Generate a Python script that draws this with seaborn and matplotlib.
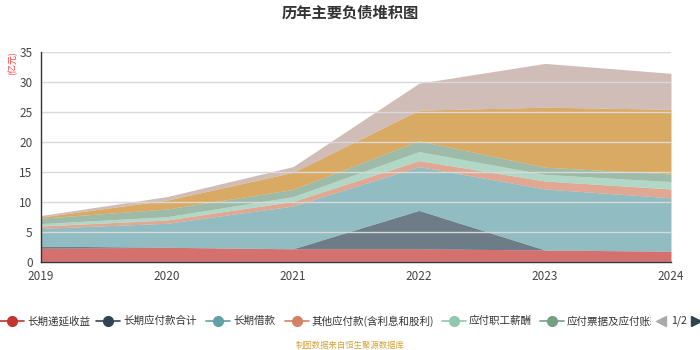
import matplotlib
matplotlib.use("Agg")
import matplotlib.pyplot as plt
from matplotlib.lines import Line2D
from matplotlib.transforms import Bbox, TransformedBbox
import numpy as np
import seaborn as sns

years = [2019, 2020, 2021, 2022, 2023, 2024]
series_names = ["长期递延收益", "长期应付款合计", "长期借款", "其他应付款(含利息和股利)",
                "应付职工薪酬", "应付票据及应付账款", "短期借款", "其他负债"]
deferred_income = [2.3, 2.45, 2.2, 2.2, 2.0, 1.8]
lt_payables = [0.35, 0.0, 0.0, 6.4, 0.0, 0.0]
lt_loans = [2.95, 4.0, 7.13, 7.3, 10.17, 8.9]
other_payables = [0.4, 0.55, 0.77, 1.0, 1.33, 1.47]
staff_pay = [0.4, 0.55, 0.8, 1.5, 1.1, 1.23]
notes_accounts = [0.9, 1.28, 1.2, 1.8, 1.2, 1.27]
st_loans = [0.2, 1.47, 2.85, 5.1, 10.0, 10.78]
other_liab = [0.25, 0.6, 0.95, 4.5, 7.3, 6.0]

colors = ["#c23531", "#2f4554", "#61a0a8", "#d48265", "#91c7ae", "#749f83", "#ca8622", "#bda29a"]

sns.set_style("white")
plt.rcParams["font.family"] = ["Noto Sans CJK SC", "DejaVu Sans"]

fig = plt.figure(figsize=(7, 3.5), dpi=100)
ax = fig.add_axes([41 / 700, 88 / 350, 630 / 700, 210 / 350])

values = [deferred_income, lt_payables, lt_loans, other_payables,
          staff_pay, notes_accounts, st_loans, other_liab]
ax.stackplot(years, *values, colors=colors, alpha=0.7, linewidth=0, zorder=2)

ax.set_xlim(2019, 2024)
ax.set_ylim(0, 35)
ax.set_yticks(range(0, 36, 5))
ax.set_xticks(years)
ax.yaxis.grid(True, color="#d9d9d9", linewidth=1, zorder=3)
ax.set_axisbelow(False)
for side in ["top", "right"]:
    ax.spines[side].set_visible(False)
for side in ["left", "bottom"]:
    ax.spines[side].set_color("#333333")
    ax.spines[side].set_linewidth(1)
    ax.spines[side].set_zorder(4)
ax.tick_params(axis="both", colors="#333333", labelsize=8.5, length=4, width=1,
               direction="out", pad=2)
ax.tick_params(axis="both", labelcolor="#444444")

fig.text(0.5, 0.965, "历年主要负债堆积图", ha="center", va="center",
         fontsize=11, fontweight="bold", color="#333333")
fig.text(13 / 700, 1 - 63 / 350, "(亿元)", ha="center", va="center",
         rotation=90, fontsize=6.5, color="#ff3b3b")

# legend (first page of a paged legend)
leg_y = 1 - 321 / 350
marker_x = [12, 108, 218, 297, 454, 552]
for i, mx in enumerate(marker_x):
    fig.add_artist(Line2D([(mx - 12) / 700, (mx + 12) / 700], [leg_y, leg_y],
                          transform=fig.transFigure, color=colors[i], lw=1.2))
    fig.add_artist(Line2D([mx / 700], [leg_y], transform=fig.transFigure,
                          color=colors[i], marker="o", markersize=7, lw=0))
    t = fig.text((mx + 15) / 700, leg_y, series_names[i], ha="left", va="center",
                 fontsize=7.6, color="#333333")
    if i == len(marker_x) - 1:
        t.set_clip_box(TransformedBbox(Bbox([[0, 0], [651 / 700, 1]]), fig.transFigure))
        t.set_clip_on(True)
fig.add_artist(Line2D([661 / 700], [leg_y], transform=fig.transFigure,
                      color="#aaaaaa", marker="<", markersize=7, lw=0))
fig.text(679 / 700, leg_y, "1/2", ha="center", va="center", fontsize=7.6, color="#333333")
fig.add_artist(Line2D([696 / 700], [leg_y], transform=fig.transFigure,
                      color="#2f4554", marker=">", markersize=7, lw=0))

fig.text(0.5, 1 - 345 / 350, "制图数据来自恒生聚源数据库", ha="center", va="center",
         fontsize=6, color="#d4a43c")

fig.savefig("out.png", dpi=100)
